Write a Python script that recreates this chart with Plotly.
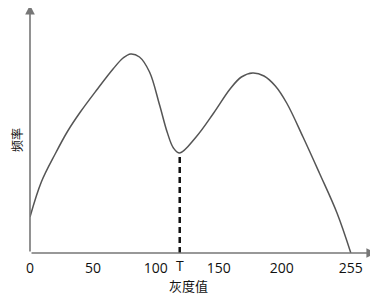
import plotly.graph_objects as go

# grey value vs frequency
gray = [0, 9, 20, 30, 40, 53, 66, 74, 80, 87, 95, 103, 109, 114, 119, 132, 146, 159, 168, 177, 186, 195, 204, 217, 230, 244, 255]
freq = [36, 71, 99, 122, 141, 163, 184, 195, 199, 196, 181, 148, 121, 105, 100, 116, 140, 164, 176, 180, 177, 167, 150, 116, 80, 40, 0]

threshold_x = [119, 119]
threshold_y = [0, 100]

tick_vals = [0, 50, 100, 150, 200, 255]
tick_text = ["0", "50", "100", "150", "200", "255"]

fig = go.Figure()
fig.add_trace(go.Scatter(x=gray, y=freq, mode="lines",
                         line=dict(color="#555555", width=1.5, shape="spline", smoothing=1.0),
                         hoverinfo="skip", showlegend=False))
fig.add_trace(go.Scatter(x=threshold_x, y=threshold_y, mode="lines",
                         line=dict(color="#111111", width=2.5, dash="6px,4px"),
                         hoverinfo="skip", showlegend=False))

font_main = "Open Sans, Noto Sans CJK SC, sans-serif"

# page has an 8px body margin, so the figure is made 8px smaller
W, H = 370, 289
L, R, T, B = 22, 2, 0, 44
pw, ph = W - L - R, H - T - B

def px(xf):
    return (xf - 8 - L) / pw

def py(yf):
    return (H - B - (yf - 8)) / ph

fig.update_layout(
    width=W, height=H,
    margin=dict(l=L, r=R, t=T, b=B, autoexpand=False),
    paper_bgcolor="white", plot_bgcolor="white",
    xaxis=dict(range=[0, 275], tickvals=tick_vals, ticktext=tick_text, automargin=False,
               showgrid=False, zeroline=False, showline=False, ticklabelstandoff=5,
               ticks="", tickfont=dict(family=font_main, size=14, color="#111")),
    yaxis=dict(range=[0, 245], showticklabels=False, showgrid=False, zeroline=False,
               showline=False, ticks="", automargin=False),
    annotations=[
        dict(x=0, y=248, ax=0, ay=0, xref="x", yref="y", axref="x", ayref="y",
             showarrow=True, arrowhead=2, arrowsize=1.2, arrowwidth=1.6, arrowcolor="#777777", text=""),
        dict(x=275, y=0, ax=0, ay=0, xref="x", yref="y", axref="x", ayref="y",
             showarrow=True, arrowhead=2, arrowsize=1.2, arrowwidth=1.6, arrowcolor="#777777", text=""),
        dict(x=119, y=0, xref="x", yref="y", text="T", showarrow=False, yanchor="top", yshift=-1,
             font=dict(family=font_main, size=14, color="#111")),
        dict(x=px(188), y=py(285), xref="paper", yref="paper", text="灰度值", showarrow=False,
             xanchor="center", yanchor="middle",
             font=dict(family="Noto Sans CJK SC", size=13, color="#111")),
        dict(x=px(16), y=py(140), xref="paper", yref="paper", text="频率", showarrow=False,
             textangle=-90, xanchor="center", yanchor="middle",
             font=dict(family="Noto Sans CJK SC", size=12, color="#111")),
    ],
)

fig.write_html("out.html")
